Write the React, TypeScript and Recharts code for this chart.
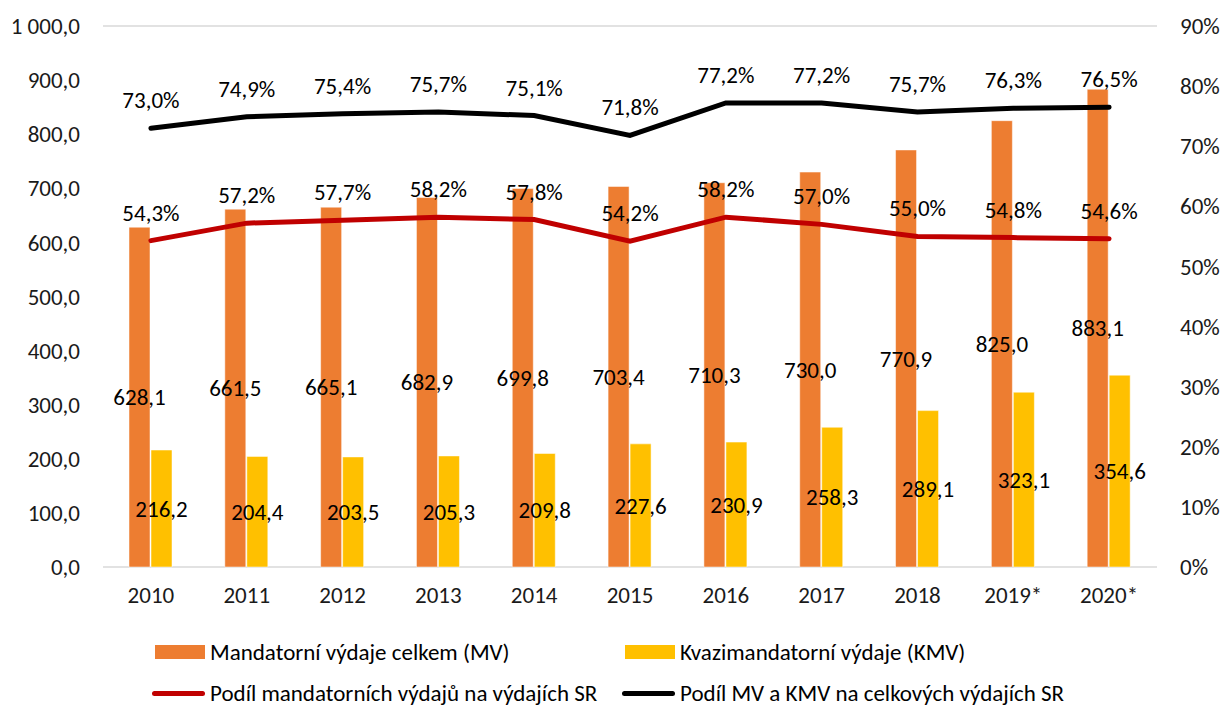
import {
  ComposedChart, Bar, Line, XAxis, YAxis, CartesianGrid, LabelList,
} from "recharts";

const YEARS = ["2010", "2011", "2012", "2013", "2014", "2015", "2016", "2017", "2018", "2019*", "2020*"];
const MV = [628.1, 661.5, 665.1, 682.9, 699.8, 703.4, 710.3, 730.0, 770.9, 825.0, 883.1];
const KMV = [216.2, 204.4, 203.5, 205.3, 209.8, 227.6, 230.9, 258.3, 289.1, 323.1, 354.6];
const SHARE_MV = [54.3, 57.2, 57.7, 58.2, 57.8, 54.2, 58.2, 57.0, 55.0, 54.8, 54.6];
const SHARE_ALL = [73.0, 74.9, 75.4, 75.7, 75.1, 71.8, 77.2, 77.2, 75.7, 76.3, 76.5];
const LEFT_TICKS = [0, 100, 200, 300, 400, 500, 600, 700, 800, 900, 1000];
const RIGHT_TICKS = [0, 10, 20, 30, 40, 50, 60, 70, 80, 90];

const NAMES = {
  mv: "Mandatorní výdaje celkem (MV)",
  kmv: "Kvazimandatorní výdaje (KMV)",
  shareMv: "Podíl mandatorních výdajů na výdajích SR",
  shareAll: "Podíl MV a KMV na celkových výdajích SR",
};

const data = YEARS.map((year, i) => ({
  year,
  mv: MV[i],
  kmv: KMV[i],
  shareMv: SHARE_MV[i],
  shareAll: SHARE_ALL[i],
}));

const FONT = "Calibri, Carlito, Lato, sans-serif";
const ORANGE = "#ED7D31";
const YELLOW = "#FFC000";
const RED = "#C00000";

// czech formatting: "1 000,0"
function fmtNum(v: number) {
  const [int, dec] = v.toFixed(1).split(".");
  return `${int.replace(/\B(?=(\d{3})+(?!\d))/g, " ")},${dec}`;
}
const fmtPct = (v: number) => `${v.toFixed(1).replace(".", ",")}%`;

const tick = { fontSize: 23, fill: "#1a1a1a", fontFamily: FONT };
const labelStyle = { fontSize: 23, fill: "#000", fontFamily: FONT };

function LegendItem({ color, label, line }: { color: string; label: string; line?: boolean }) {
  return (
    <div style={{ display: "flex", alignItems: "center", gap: 5 }}>
      {line ? (
        <div style={{ width: 53, height: 5, background: color, borderRadius: 3 }} />
      ) : (
        <div style={{ width: 50, height: 14, background: color }} />
      )}
      <span>{label}</span>
    </div>
  );
}

export default function App() {
  return (
    <div style={{ position: "absolute", left: 0, top: 0, width: 1224, height: 707, background: "#fff", fontFamily: FONT, overflow: "hidden" }}>
      <ComposedChart
        width={1224}
        height={707}
        data={data}
        margin={{ top: 26, right: 7, left: 3, bottom: 100 }}
        barSize={21}
        barGap={1}
      >
        <CartesianGrid vertical={false} stroke="#D9D9D9" strokeWidth={1.5} />
        <XAxis
          dataKey="year"
          axisLine={false}
          tickLine={false}
          tickSize={0}
          tickMargin={20}
          height={40}
          tick={tick}
        />
        <YAxis
          yAxisId="left"
          domain={[0, 1000]}
          ticks={LEFT_TICKS}
          axisLine={false}
          tickLine={false}
          tickSize={0}
          tickMargin={23}
          width={100}
          tick={tick}
          tickFormatter={fmtNum}
        />
        <YAxis
          yAxisId="right"
          orientation="right"
          domain={[0, 90]}
          ticks={RIGHT_TICKS}
          axisLine={false}
          tickLine={false}
          tickSize={0}
          tickMargin={23}
          width={60}
          tick={{ ...tick, textAnchor: "start" }}
          tickFormatter={(v: number) => `${v}%`}
        />
        <Bar yAxisId="left" dataKey="mv" name={NAMES.mv} fill={ORANGE} stroke="#fff" strokeWidth={0.5} isAnimationActive={false}>
          <LabelList dataKey="mv" position="center" formatter={(v: number) => fmtNum(v)} style={labelStyle} />
        </Bar>
        <Bar yAxisId="left" dataKey="kmv" name={NAMES.kmv} fill={YELLOW} stroke="#fff" strokeWidth={0.5} isAnimationActive={false}>
          <LabelList dataKey="kmv" position="center" formatter={(v: number) => fmtNum(v)} style={labelStyle} />
        </Bar>
        <Line
          yAxisId="right"
          dataKey="shareMv"
          name={NAMES.shareMv}
          stroke={RED}
          strokeWidth={5}
          strokeLinecap="round"
          dot={false}
          isAnimationActive={false}
        >
          <LabelList dataKey="shareMv" position="top" offset={20} formatter={(v: number) => fmtPct(v)} style={labelStyle} />
        </Line>
        <Line
          yAxisId="right"
          dataKey="shareAll"
          name={NAMES.shareAll}
          stroke="#000"
          strokeWidth={5}
          strokeLinecap="round"
          dot={false}
          isAnimationActive={false}
        >
          <LabelList dataKey="shareAll" position="top" offset={20} formatter={(v: number) => fmtPct(v)} style={labelStyle} />
        </Line>
      </ComposedChart>

      {/* legend, two rows like the excel original */}
      <div style={{ position: "absolute", left: 155, top: 641, fontSize: 23, color: "#000", lineHeight: "22px" }}>
        <div style={{ display: "flex" }}>
          <div style={{ width: 470 }}><LegendItem color={ORANGE} label={NAMES.mv} /></div>
          <LegendItem color={YELLOW} label={NAMES.kmv} />
        </div>
        <div style={{ display: "flex", marginTop: 19, marginLeft: -3 }}>
          <div style={{ width: 470 }}><LegendItem color={RED} label={NAMES.shareMv} line /></div>
          <LegendItem color="#000" label={NAMES.shareAll} line />
        </div>
      </div>
    </div>
  );
}
